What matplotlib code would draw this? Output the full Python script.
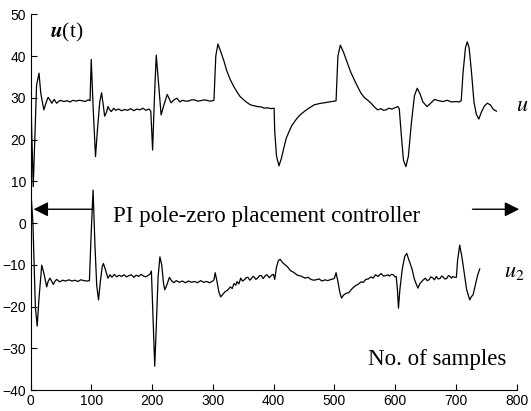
import numpy as np
import matplotlib
matplotlib.use('Agg')
import matplotlib.pyplot as plt

plt.rcParams['font.family'] = ['Liberation Sans', 'DejaVu Sans']
plt.rcParams['mathtext.fontset'] = 'stix'

# u1 (upper control signal): (sample index, value)
u1_pts = [(0, 36), (2, 22), (4.5, 8.7), (7, 20), (10, 33), (14, 35.9), (17, 31), (22, 27.1),
          (26, 29), (29, 30.1), (32, 29.5), (35, 28.7), (39, 29.6), (43, 28.7), (49, 29.4),
          (55, 29.1), (60, 29.3), (65, 29.0), (70, 29.4), (75, 29.2), (80, 29.4), (85, 29.3),
          (90, 29.1), (95, 29.5), (98, 29.3), (100, 39.2), (103, 28), (107, 15.9), (110, 22),
          (114, 29), (117, 31.2), (120, 28), (122, 25.6), (125, 26.5), (127.5, 27.9),
          (130, 27.2), (133, 26.7), (137, 27.5), (140, 27.0), (145, 27.3), (150, 26.9),
          (155, 27.2), (160, 27.0), (165, 27.4), (170, 26.9), (175, 27.3), (180, 27.1),
          (185, 27.5), (190, 27.0), (195, 27.3), (198, 26.8), (201, 17.5), (204, 30),
          (207, 40.2), (211, 33), (215, 25.9), (219, 28), (225, 30.8), (231.5, 28.8),
          (236, 29.5), (241, 29.9), (246, 29.0), (250, 29.4), (255, 29.2), (260, 29.2),
          (265, 29.5), (270, 29.5), (275, 29.2), (280, 29.3), (285, 29.5), (290, 29.4),
          (295, 29.2), (300, 29.3), (302, 29.4), (305, 40), (308.5, 42.9), (312, 41.5),
          (318, 39.0), (323, 36.5), (329, 34.3), (335, 32.6), (340, 31.4), (345, 30.3),
          (351, 29.5), (356, 28.9), (362, 28.3), (368, 28.1), (373.5, 27.9), (380, 27.8),
          (385, 27.5), (390, 27.6), (396, 27.4), (401, 27.5), (402, 22), (405, 16),
          (409, 13.7), (413, 15.5), (417.5, 18.3), (421, 20.3), (425.6, 21.9), (430, 23.3),
          (436.7, 24.7), (443, 25.8), (450.5, 26.7), (458, 27.5), (467, 28.3), (475, 28.6),
          (483.5, 28.8), (492, 29.0), (500, 29.2), (503, 29.3), (506, 40), (510, 42.6),
          (515, 41), (522, 38.2), (527, 36.2), (533, 34.3), (538, 32.8), (544, 31.1),
          (550, 30.0), (556, 29.3), (560.6, 28.7), (566, 27.8), (571.6, 27.1), (577, 27.4),
          (581, 27.0), (585, 27.1), (590, 27.5), (595, 27.3), (600, 27.6), (604.7, 27.9),
          (607, 27.4), (611, 20), (614, 15), (618, 13.5), (622, 16), (627, 24), (632, 30.5),
          (636.6, 32.3), (641, 31), (646, 29), (652.6, 27.9), (658, 28.6), (665, 29.6),
          (672, 29.3), (679, 29.1), (686, 29.4), (693, 29.0), (701, 29.1), (706, 29.0),
          (709, 29.3), (712, 36), (716, 42), (719, 43.4), (722, 42), (726, 36), (730, 29),
          (734, 26), (738, 24.9), (742, 26.5), (747, 28), (752, 28.7), (757, 28.3),
          (762, 27.2), (767, 26.8)]

# u2 (lower control signal)
u2_pts = [(0, 9), (4, 0), (8, -20), (11, -24.7), (14, -18), (18.5, -10.1), (22, -12),
          (26.7, -15.3), (29, -14), (32, -13.2), (35, -14), (37.6, -14.7), (40, -14),
          (43, -13.5), (48, -14.1), (53, -13.7), (58, -13.9), (63, -13.6), (68, -13.9),
          (73, -13.7), (78, -14.0), (83, -13.6), (88, -13.8), (93, -13.9), (97, -13.8),
          (100, -2), (103, 7.9), (106, -5), (109, -15), (112, -18.4), (115, -14),
          (118, -10.5), (120, -9.7), (123, -11), (127.5, -13.2), (131, -12.4), (134, -13),
          (138, -12.3), (142, -12.9), (146, -12.5), (150, -12.8), (154, -12.4), (158, -12.9),
          (162, -12.6), (166, -12.4), (170, -13.0), (174, -12.5), (178, -12.8), (182, -12.3),
          (186, -12.7), (190, -12.9), (194, -12.5), (197, -12.2), (199, -11.5), (201, -20),
          (204.5, -34.3), (207, -25), (210, -13), (213, -8.1), (216, -10), (219, -14.5),
          (221, -16.0), (224, -15), (228.7, -13.0), (232, -13.8), (236, -14.3), (240, -13.8),
          (245, -14.2), (250, -13.9), (255, -14.3), (260, -13.9), (265, -14.2), (270, -14.0),
          (275, -14.3), (280, -13.8), (285, -14.2), (290, -14.0), (295, -14.3), (300, -13.9),
          (302, -13.6), (304, -11.9), (307, -14), (310, -16.5), (313, -17.7), (316, -17.2),
          (320, -16.5), (325, -16.0), (329, -15.3), (332, -15.7), (335, -14.5), (338, -14.9),
          (340, -14.0), (343, -14.6), (346, -13.2), (349, -13.9), (352, -13.6), (355, -13.1),
          (358, -13.0), (361, -13.7), (363, -13.4), (366, -12.8), (368, -12.9), (371, -13.5),
          (374, -13.2), (377, -12.6), (380, -12.6), (383, -13.3), (385, -12.9), (388, -12.4),
          (390, -12.5), (393, -13.1), (395, -12.8), (398, -12.4), (400, -12.3), (402, -13.5),
          (405, -10.5), (408, -9.0), (411, -8.7), (415, -9.5), (419, -10.0), (423, -10.5),
          (428, -11.4), (433, -11.8), (439.5, -12.5), (445, -12.7), (452, -13.2), (457, -13.0),
          (461.5, -13.5), (466, -13.7), (470, -13.6), (475, -13.4), (480, -13.9), (485, -13.6),
          (489, -13.8), (495, -13.5), (500, -13.3), (503, -11.9), (506, -14), (509, -16.5),
          (512, -18.0), (515, -17.3), (520, -16.8), (524, -16.7), (527.6, -16.0), (531, -15.5),
          (535, -15.0), (539, -14.7), (544, -14.1), (548, -14.2), (552, -13.5), (556, -13.4),
          (560.6, -12.9), (564, -13.2), (568, -12.4), (572, -12.8), (577, -12.1), (581, -12.7),
          (585, -12.6), (588, -12.4), (591, -12.7), (594, -12.3), (597, -12.4), (600, -12.9),
          (602, -12.8), (604, -16), (605.7, -20.4), (608, -16), (612, -11), (616, -8),
          (619.5, -7.3), (622, -8.5), (624, -9.3), (628, -11), (632, -13.5), (637.7, -15.6),
          (641, -14.5), (646, -13.7), (650, -13.2), (653, -13.8), (656, -13.6), (659, -12.9),
          (662.5, -13.2), (665, -13.6), (668, -12.8), (671, -13.4), (674, -13.3), (677, -12.7),
          (679, -12.9), (682, -13.4), (685, -13.3), (688, -12.6), (690, -12.7), (693, -13.2),
          (695, -12.8), (698, -13.0), (701, -13.0), (703, -9), (706.5, -5.3), (710, -8),
          (714, -12), (718, -16), (723, -18.4), (726, -17.6), (728.5, -17.2), (732, -15),
          (736, -12.5), (739.5, -11.0)]

x_ticks = [0, 100, 200, 300, 400, 500, 600, 700, 800]
y_ticks = [-40, -30, -20, -10, 0, 10, 20, 30, 40, 50]

fig = plt.figure(figsize=(5.31, 4.11), dpi=100)
ax = fig.add_axes([30.5 / 531, 21 / 411, 486 / 531, 375.7 / 411])

for pts in [u1_pts, u2_pts]:
    xs, ys = zip(*pts)
    ax.plot(xs, ys, color='k', lw=0.9)

ax.set_xlim(0, 800)
ax.set_ylim(-40, 50)
ax.set_xticks(x_ticks)
ax.set_yticks(y_ticks)
ax.tick_params(direction='in', length=4, width=0.8, labelsize=10, pad=3)
for s in ['top', 'right']:
    ax.spines[s].set_visible(False)
for s in ['left', 'bottom']:
    ax.spines[s].set_linewidth(0.8)

serif = ['Liberation Serif', 'DejaVu Serif']
ax.text(32, 45.7, r'$\mathbfit{u}$(t)', fontsize=15.5, va='center', ha='left', family=serif)
ax.text(136, 0.2, 'PI pole-zero placement controller', fontsize=16.5, family=serif)
ax.text(556, -34.0, 'No. of samples', fontsize=16.5, family=serif)
ax.text(800, 26.8, r'$u$', fontsize=16, clip_on=False)
ax.text(780, -13.0, r'$u_2$', fontsize=16, clip_on=False)

ax.annotate('', xy=(0.5, 3.3), xytext=(106, 3.3),
            arrowprops=dict(arrowstyle='-|>', lw=1, color='k', mutation_scale=22),
            annotation_clip=False)
ax.annotate('', xy=(809, 3.3), xytext=(723, 3.3),
            arrowprops=dict(arrowstyle='-|>', lw=1, color='k', mutation_scale=22),
            annotation_clip=False)

fig.savefig('out.png', dpi=100)
